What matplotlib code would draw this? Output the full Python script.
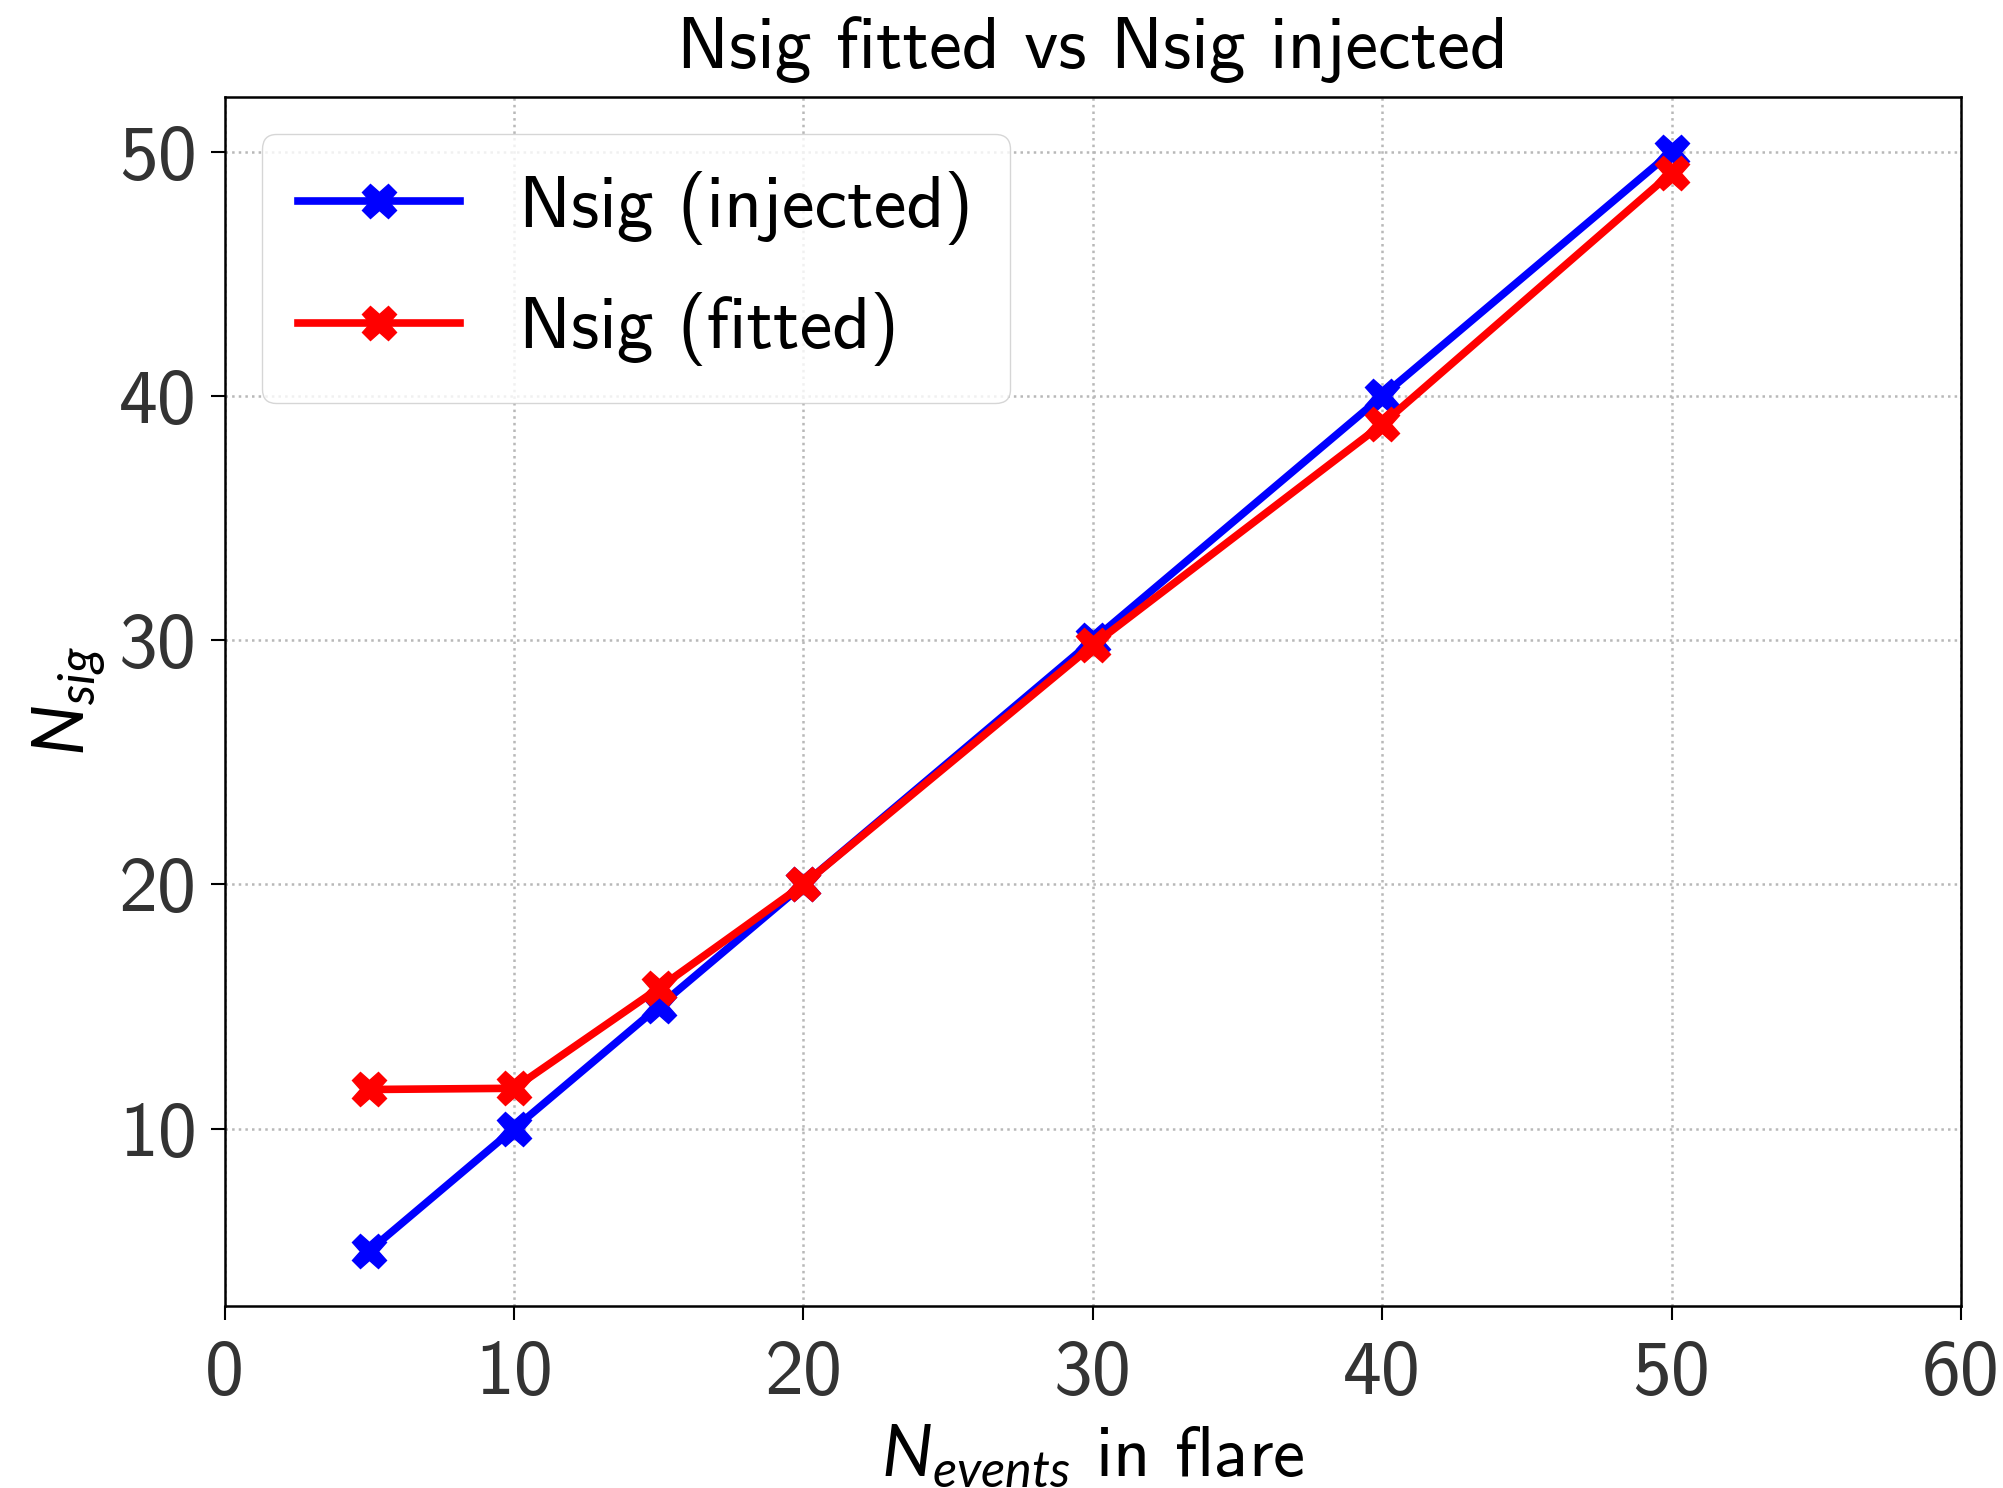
import matplotlib
matplotlib.use("Agg")
import matplotlib.pyplot as plt

######################################################################
# DATA

n_events = [5, 10, 15, 20, 30, 40, 50]
nsig_injected = [5, 10, 15, 20, 30, 40, 50]
nsig_fitted = [11.6, 11.65, 15.75, 20.0, 29.8, 38.85, 49.15]

######################################################################
# STYLE

plt.rcParams['font.family'] = ['cmss10', 'DejaVu Sans']
plt.rcParams['mathtext.fontset'] = 'custom'
plt.rcParams['mathtext.rm'] = 'cmss10'
plt.rcParams['mathtext.it'] = 'Lato:italic'
plt.rcParams['axes.unicode_minus'] = False

fig = plt.figure(figsize=(20.03, 14.88), dpi=100)
ax = fig.add_axes([0.1122, 0.1226, 0.8668, 0.8122])

ax.plot(n_events, nsig_injected, color='blue', marker='X', lw=5.5,
        markersize=25, label='Nsig (injected)')
ax.plot(n_events, nsig_fitted, color='red', marker='X', lw=5.5,
        markersize=25, label='Nsig (fitted)')

ax.set_xlim(0, 60)
ax.set_xticks([0, 10, 20, 30, 40, 50, 60])
ax.set_yticks([10, 20, 30, 40, 50])
ax.grid(True, linestyle=':', color='#b8b8b8', lw=1.8)

ax.tick_params(labelsize=56, length=10, width=1.5, colors='black',
               labelcolor='#333333', pad=10)
ax.tick_params(axis='x', pad=15)
for s in ax.spines.values():
    s.set_linewidth(1.8)

ax.set_title('Nsig fitted vs Nsig injected', fontsize=53, pad=21)
ax.set_xlabel(r'$N_{events}$ in flare', fontsize=52, labelpad=10)
ax.set_ylabel(r'$N_{sig}$', fontsize=52, labelpad=8)

ax.legend(loc='upper left', fontsize=53, handlelength=2.2,
          borderpad=0.5, labelspacing=0.65, handletextpad=0.8,
          fancybox=True, framealpha=0.8, edgecolor='#cccccc')

fig.savefig('out.png', dpi=100)
